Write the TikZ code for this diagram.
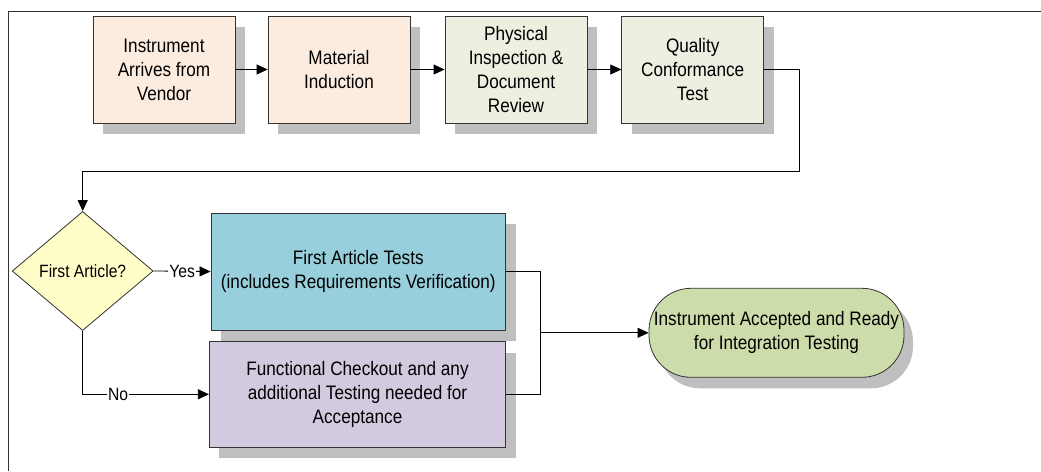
\documentclass[tikz,border=0pt]{standalone}
\usepackage{fontspec}
\setmainfont[FakeStretch=0.88]{Liberation Sans}
\usetikzlibrary{arrows.meta,shapes.geometric,shadows}

\definecolor{peach}{RGB}{252,236,224}
\definecolor{sage}{RGB}{235,240,224}
\definecolor{lemon}{RGB}{255,253,200}
\definecolor{aqua}{RGB}{151,207,220}
\definecolor{lilac}{RGB}{211,202,224}
\definecolor{olive}{RGB}{204,220,170}
\definecolor{shade}{RGB}{191,191,191}
\definecolor{edge}{RGB}{51,51,51}

\tikzset{
  boxshadow/.style={general shadow={fill=shade, draw=none, shadow xshift=10pt, shadow yshift=-11pt}},
  procbox/.style={rectangle, draw=edge, line width=0.8pt, inner sep=0pt, align=center,
    font=\fontsize{19.5}{24}\selectfont, boxshadow},
  decision/.style={diamond, draw=edge, line width=0.8pt, fill=lemon, inner sep=0pt,
    minimum width=141pt, minimum height=119pt, font=\fontsize{17.8}{20}\selectfont},
  terminal/.style={rectangle, rounded corners=42pt, draw=edge, line width=0.8pt, fill=olive,
    inner sep=0pt, minimum width=255pt, minimum height=89pt, align=center,
    font=\fontsize{19.5}{24}\selectfont,
    general shadow={fill=shade, draw=none, shadow xshift=9pt, shadow yshift=-11pt}},
  flow/.style={draw=black, line width=0.8pt, -{Triangle[length=11pt,width=10pt]}},
  joint/.style={draw=black, line width=0.8pt},
  lab/.style={fill=white, inner sep=1pt, font=\fontsize{17.8}{18}\selectfont},
}

\begin{document}
\begin{tikzpicture}[x=1pt, y=-1pt]
  \useasboundingbox (0,0) rectangle (1041,471);
  % page frame
  \draw[edge, line width=0.8pt] (1041,11) -- (8,11) -- (8,471);

  % top row of steps
  \node[procbox, fill=peach, minimum width=142pt, minimum height=107pt] (arrive) at (164,69.5)
    {Instrument\\Arrives from\\Vendor};
  \node[procbox, fill=peach, minimum width=142pt, minimum height=107pt] (induct) at (339,69.5)
    {Material\\Induction};
  \node[procbox, fill=sage, minimum width=142pt, minimum height=107pt] (inspect) at (516,69.5)
    {Physical\\Inspection \&\\Document\\Review};
  \node[procbox, fill=sage, minimum width=142pt, minimum height=107pt] (qct) at (692.7,69.5)
    {Quality\\Conformance\\Test};

  % decision and test branches
  \node[decision] (first) at (82.7,271) {First Article?};
  \node[procbox, fill=aqua, minimum width=294.7pt, minimum height=117pt] (fat) at (358.3,271.5)
    {First Article Tests\\(includes Requirements Verification)};
  \node[procbox, fill=lilac, minimum width=296.4pt, minimum height=105.3pt] (func) at (357.5,394.3)
    {Functional Checkout and any\\additional Testing needed for\\Acceptance};

  % end state
  \node[terminal] (done) at (776.5,332.8)
    {Instrument Accepted and Ready\\for Integration Testing};

  % routing points
  \coordinate (wrap) at (799,171);
  \coordinate (merge) at (540,332.8);

  % connectors
  \draw[flow] (arrive) -- (induct);
  \draw[flow] (induct) -- (inspect);
  \draw[flow] (inspect) -- (qct);
  \draw[flow] (qct.east) -| (wrap) -| (first.north);
  \draw[flow] (first.east) -- node[lab] {Yes} (fat.west);
  \draw[flow] (first.south) |- node[lab, pos=0.64] {No} (func.west);
  \draw[joint] (fat.east) -| (merge);
  \draw[joint] (func.east) -| (merge);
  \draw[flow] (merge) -- (done.west);
\end{tikzpicture}
\end{document}
